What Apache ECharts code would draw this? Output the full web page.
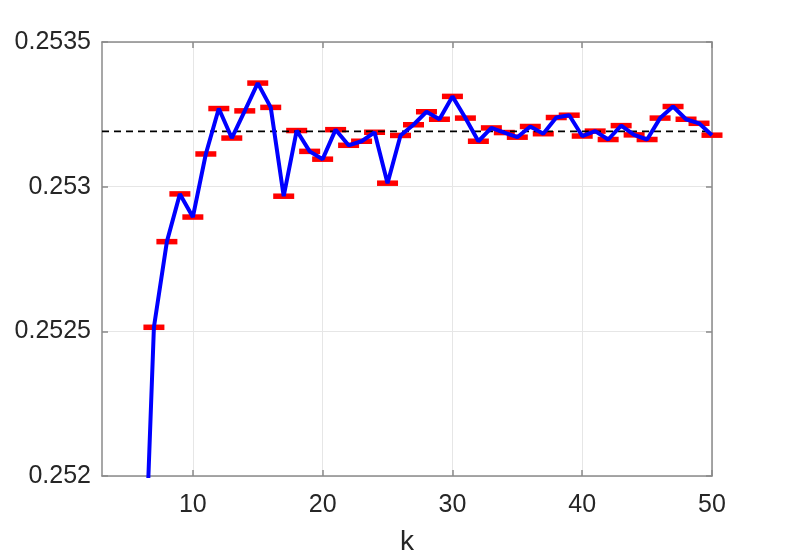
<!DOCTYPE html>
<html><head><meta charset="utf-8">
<script src="https://cdn.jsdelivr.net/npm/echarts@6/dist/echarts.min.js"></script>
<style>html,body{margin:0;padding:0;background:#fff}#c{width:788px;height:558px}</style>
</head><body><div id="c"></div>
<script>
const kValues = [6,7,8,9,10,11,12,13,14,15,16,17,18,19,20,21,22,23,24,25,26,27,28,29,30,31,32,33,34,35,36,37,38,39,40,41,42,43,44,45,46,47,48,49,50];
const estimates = [0.25130,0.252514,0.25281,0.252975,0.252895,0.253113,0.25327,0.253168,0.253262,0.253358,0.253274,0.252967,0.253194,0.253122,0.253095,0.253197,0.253143,0.253157,0.253188,0.253012,0.253177,0.253214,0.253259,0.253233,0.253312,0.253237,0.253157,0.253203,0.253187,0.253171,0.253208,0.253183,0.253239,0.253247,0.253175,0.253192,0.253163,0.253211,0.253179,0.253163,0.253237,0.253277,0.253233,0.253219,0.253178];
const referenceValue = 0.253191;
const xTicks = [10,20,30,40,50];
const yTicks = [0.252,0.2525,0.253,0.2535];
const xLabel = 'k';

const pts = kValues.map((k,i)=>[k,estimates[i]]);
const axisGray = '#8a8a8a';
const textCol = '#262626';
const fontFam = 'Liberation Sans, Arial, Helvetica, sans-serif';
const chart = echarts.init(document.getElementById('c'));
chart.setOption({
  animation:false,
  backgroundColor:'#fff',
  grid:{left:102,right:76,top:42,bottom:82,containLabel:false,outerBoundsMode:'none'},
  xAxis:[{
    type:'value',min:3,max:50,position:'bottom',
    name:xLabel,nameLocation:'middle',nameGap:52,
    nameTextStyle:{color:textCol,fontSize:28,fontFamily:fontFam},
    axisLine:{show:true,onZero:false,lineStyle:{color:axisGray,width:1.5}},
    axisTick:{show:true,inside:true,length:6,customValues:xTicks,lineStyle:{color:axisGray,width:1.5}},
    axisLabel:{show:true,customValues:xTicks,margin:17,color:textCol,fontSize:25,fontFamily:fontFam},
    splitLine:{show:true,lineStyle:{color:'#e6e6e6',width:1}}
  },{
    type:'value',min:3,max:50,position:'top',
    axisLine:{show:true,onZero:false,lineStyle:{color:axisGray,width:1.5}},
    axisTick:{show:true,inside:true,length:6,customValues:xTicks,lineStyle:{color:axisGray,width:1.5}},
    axisLabel:{show:false,customValues:xTicks},
    splitLine:{show:false}
  }],
  yAxis:[{
    type:'value',min:0.252,max:0.2535,interval:0.0005,position:'left',
    axisLine:{show:true,onZero:false,lineStyle:{color:axisGray,width:1.5}},
    axisTick:{show:true,inside:true,length:6,lineStyle:{color:axisGray,width:1.5}},
    axisLabel:{show:true,margin:11,color:textCol,fontSize:25,fontFamily:fontFam,
      formatter:v=>String(parseFloat(v.toFixed(5)))},
    splitLine:{show:true,lineStyle:{color:'#e6e6e6',width:1}}
  },{
    type:'value',min:0.252,max:0.2535,interval:0.0005,position:'right',
    axisLine:{show:true,onZero:false,lineStyle:{color:axisGray,width:1.5}},
    axisTick:{show:true,inside:true,length:6,lineStyle:{color:axisGray,width:1.5}},
    axisLabel:{show:false},
    splitLine:{show:false}
  }],
  series:[
    {type:'scatter',data:pts,symbol:'rect',symbolSize:[21,5.5],clip:true,z:2,
     itemStyle:{color:'#ff0000',opacity:1},silent:true},
    {type:'line',data:[[3,referenceValue],[50,referenceValue]],showSymbol:false,symbol:'none',z:3,
     lineStyle:{color:'#000',width:1.6,type:[7,5]},silent:true},
    {type:'line',data:pts,showSymbol:false,symbol:'none',clip:true,z:4,
     lineStyle:{color:'#0000ff',width:4},silent:true}
  ]
});
</script></body></html>
